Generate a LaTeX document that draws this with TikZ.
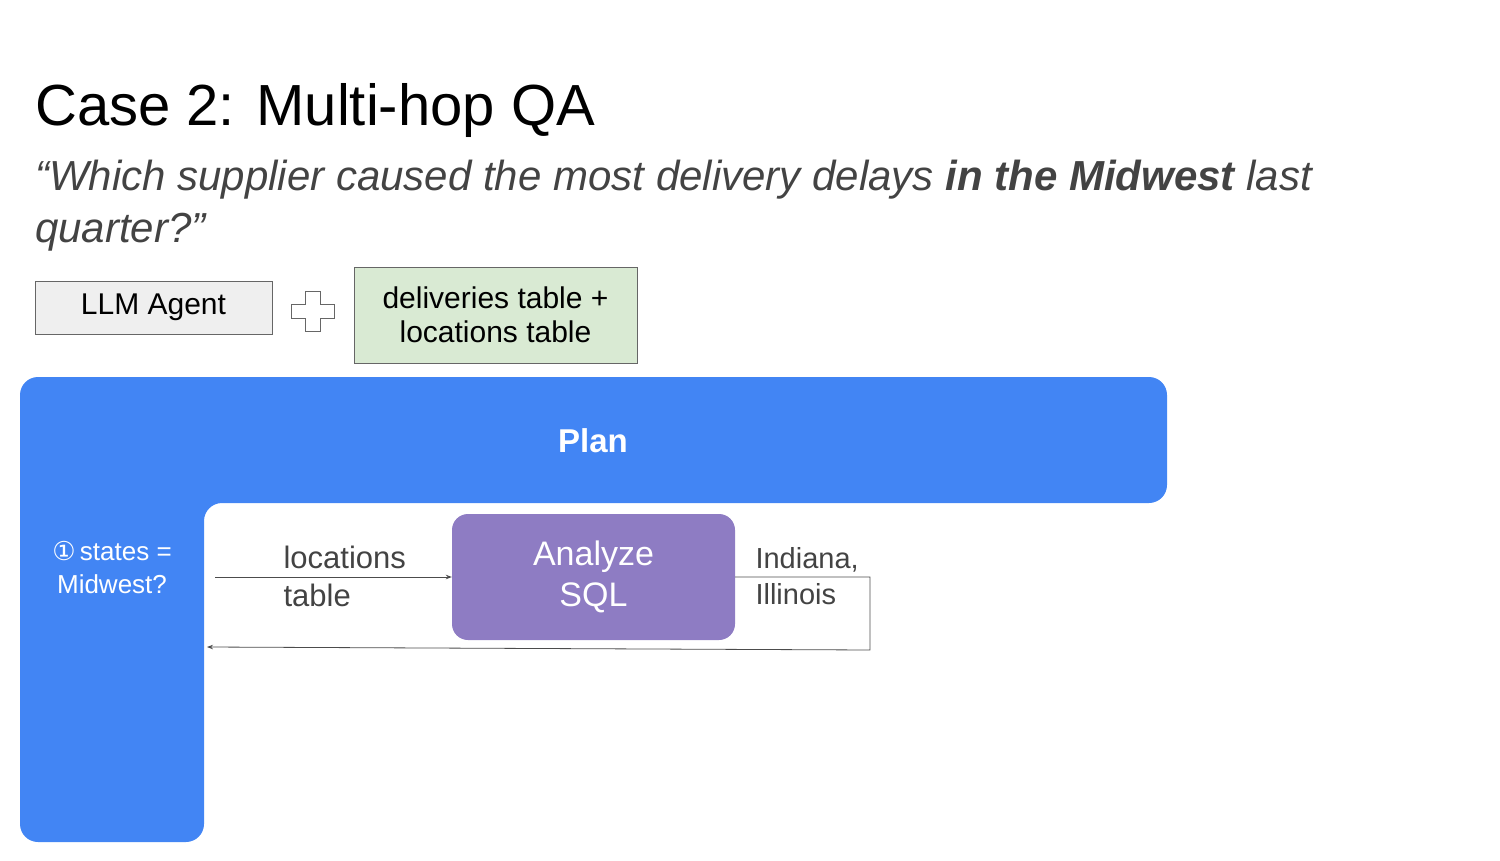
\documentclass[tikz,border=0pt]{standalone}
\usepackage{fontspec}
\setmainfont{Liberation Sans}
\usetikzlibrary{arrows.meta,positioning}
\definecolor{planblue}{HTML}{4285F4}
\definecolor{sqlpurple}{HTML}{8E7CC3}
\definecolor{tablegreen}{HTML}{D9EAD3}
\definecolor{agentgray}{HTML}{EFEFEF}
\definecolor{textgray}{HTML}{434343}
\begin{document}
\begin{tikzpicture}[
  x=1pt, y=-1pt,
  box/.style={draw=black!60, line width=0.8pt, align=center, font=\fontsize{30}{34}\selectfont},
  arrow/.style={-{Stealth[length=6pt]}, line width=0.8pt, draw=black!70},
  lbl/.style={align=left, anchor=west, text=textgray, font=\fontsize{31}{38}\selectfont},
]
\useasboundingbox (0,0) rectangle (1500,861);
% heading
\node[anchor=base west, inner sep=0, font=\fontsize{58}{60}\selectfont] (title) at (35,126) {Case 2: Multi-hop QA};
\node[anchor=north west, inner sep=0, align=left, text=textgray, font=\fontsize{42}{52}\selectfont\itshape] (question) at (35,160)
  {``Which supplier caused the most delivery delays \textbf{in the Midwest} last\\quarter?''};

% inputs
\node[box, fill=agentgray, minimum width=237, minimum height=53, inner sep=0] (agent) at (153.5,307.5) {LLM Agent};
\draw[draw=black!60, fill=white, line width=0.8pt] (305,291) -- (320,291) -- (320,304) -- (334,304) -- (334,318) -- (320,318) -- (320,331)
  -- (305,331) -- (305,318) -- (291,318) -- (291,304) -- (305,304) -- cycle;
\node[box, fill=tablegreen, minimum width=283, minimum height=96, inner sep=0] (tables) at (495.5,315) {deliveries table +\\locations table};

% plan
\fill[planblue, rounded corners=18] (20,377) -- (1167,377) -- (1167,503) -- (204,503) -- (204,842) -- (20,842) -- cycle;
\node[text=white, font=\fontsize{33}{36}\selectfont\bfseries] (plan) at (593,441) {Plan};
\node[text=white, align=center, font=\fontsize{26}{33}\selectfont] (step) at (112,568) {\fontspec{DejaVu Sans}①\,\fontspec{Liberation Sans}states =\\Midwest?};

% SQL step
\node[fill=sqlpurple, rounded corners=16, minimum width=283, minimum height=126, inner sep=0, align=center, text=white,
  font=\fontsize{34}{41}\selectfont] (sql) at (593.5,577) {Analyze\\SQL};
\coordinate (qstart) at (215,577);
\coordinate (corner1) at (870,577);
\coordinate (corner2) at (870,650);
\coordinate (back) at (207,647);
\draw[arrow] (qstart) -- (sql.west);
\draw[arrow] (sql.east) -- (corner1) -- (corner2) -- (back);
\node[lbl] (qlabel) at (280,576) {locations\\table};
\node[lbl, font=\fontsize{29}{36}\selectfont] (alabel) at (752,576) {Indiana,\\Illinois};
\end{tikzpicture}
\end{document}
